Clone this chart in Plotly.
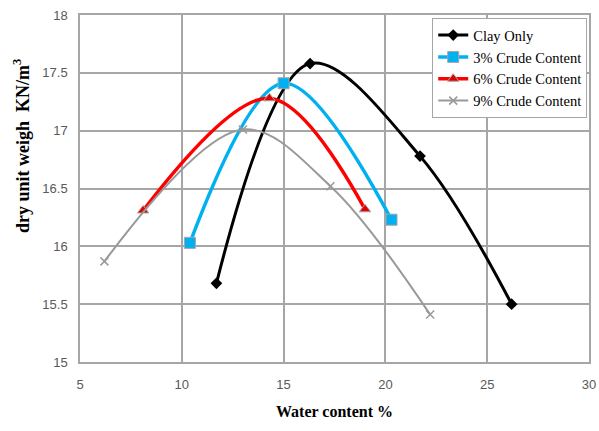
import plotly.graph_objects as go

clay_x = [11.7, 16.3, 21.7, 26.2]
clay_y = [15.68, 17.58, 16.78, 15.50]
c3_x = [10.4, 15.0, 20.3]
c3_y = [16.03, 17.41, 16.23]
c6_x = [8.1, 14.3, 19.0]
c6_y = [16.31, 17.28, 16.32]
c9_x = [6.2, 13.0, 17.3, 22.2]
c9_y = [15.87, 17.01, 16.52, 15.41]

x_ticks = [5, 10, 15, 20, 25, 30]
y_ticks = [15, 15.5, 16, 16.5, 17, 17.5, 18]
y_tick_text = ["15", "15.5", "16", "16.5", "17", "17.5", "18"]

fig = go.Figure()
fig.add_trace(go.Scatter(x=clay_x, y=clay_y, name="Clay Only", mode="lines+markers",
                         line=dict(color="#000000", width=3, shape="spline", smoothing=1.0),
                         marker=dict(symbol="diamond", size=9, color="#000000")))
fig.add_trace(go.Scatter(x=c3_x, y=c3_y, name="3% Crude Content", mode="lines+markers",
                         line=dict(color="#00B0F0", width=3.5, shape="spline", smoothing=1.0),
                         marker=dict(symbol="square", size=11, color="#00B0F0",
                                     line=dict(color="#A6A6A6", width=1))))
fig.add_trace(go.Scatter(x=c6_x, y=c6_y, name="6% Crude Content", mode="lines+markers",
                         line=dict(color="#FF0000", width=3.5, shape="spline", smoothing=1.0),
                         marker=dict(symbol="triangle-up", size=10, color="#E00000",
                                     line=dict(color="#A6A6A6", width=1))))
fig.add_trace(go.Scatter(x=c9_x, y=c9_y, name="9% Crude Content", mode="lines+markers",
                         line=dict(color="#999999", width=2, shape="spline", smoothing=1.0),
                         marker=dict(symbol="x-thin", size=8, color="#999999",
                                     line=dict(color="#999999", width=1.5))))

axis_common = dict(showgrid=True, gridcolor="#A6A6A6", gridwidth=1.5,
                   showline=True, linecolor="#A6A6A6", linewidth=1.5, mirror=True,
                   zeroline=False, ticks="", automargin=False, ticklabeloverflow="allow",
                   tickfont=dict(family="Liberation Sans, Arial, sans-serif", size=13, color="#595959"))

fig.update_xaxes(range=[5, 30], tickvals=x_ticks, ticklabelstandoff=10, **axis_common)
fig.update_yaxes(range=[15, 18], tickvals=y_ticks, ticktext=y_tick_text, ticklabelstandoff=8, **axis_common)

fig.update_layout(
    width=599, height=431,
    margin=dict(l=80, r=10, t=15, b=69, autoexpand=False),
    paper_bgcolor="white", plot_bgcolor="white",
    showlegend=True,
    legend=dict(x=0.692, y=0.991, xanchor="left", yanchor="top",
                bgcolor="white", bordercolor="#A6A6A6", borderwidth=1,
                font=dict(family="Liberation Serif, Times New Roman, serif", size=14.5, color="#000000"),
                tracegroupgap=0, itemwidth=30),
    annotations=[
        dict(text="<b>Water content %</b>", xref="paper", yref="paper", x=0.5, y=-0.144,
             xanchor="center", yanchor="middle", showarrow=False,
             font=dict(family="Liberation Serif, Times New Roman, serif", size=16, color="#000000")),
        dict(text="<b>dry unit weigh  KN/m<sup>3</sup></b>", xref="paper", yref="paper",
             x=-0.114, y=0.879, xanchor="center", yanchor="top", textangle=-90, showarrow=False,
             font=dict(family="Liberation Serif, Times New Roman, serif", size=18, color="#000000")),
    ],
)

fig.write_html("out.html",
               config={"displayModeBar": False},
               post_script="document.body.style.margin='0';document.body.style.overflow='hidden';")
